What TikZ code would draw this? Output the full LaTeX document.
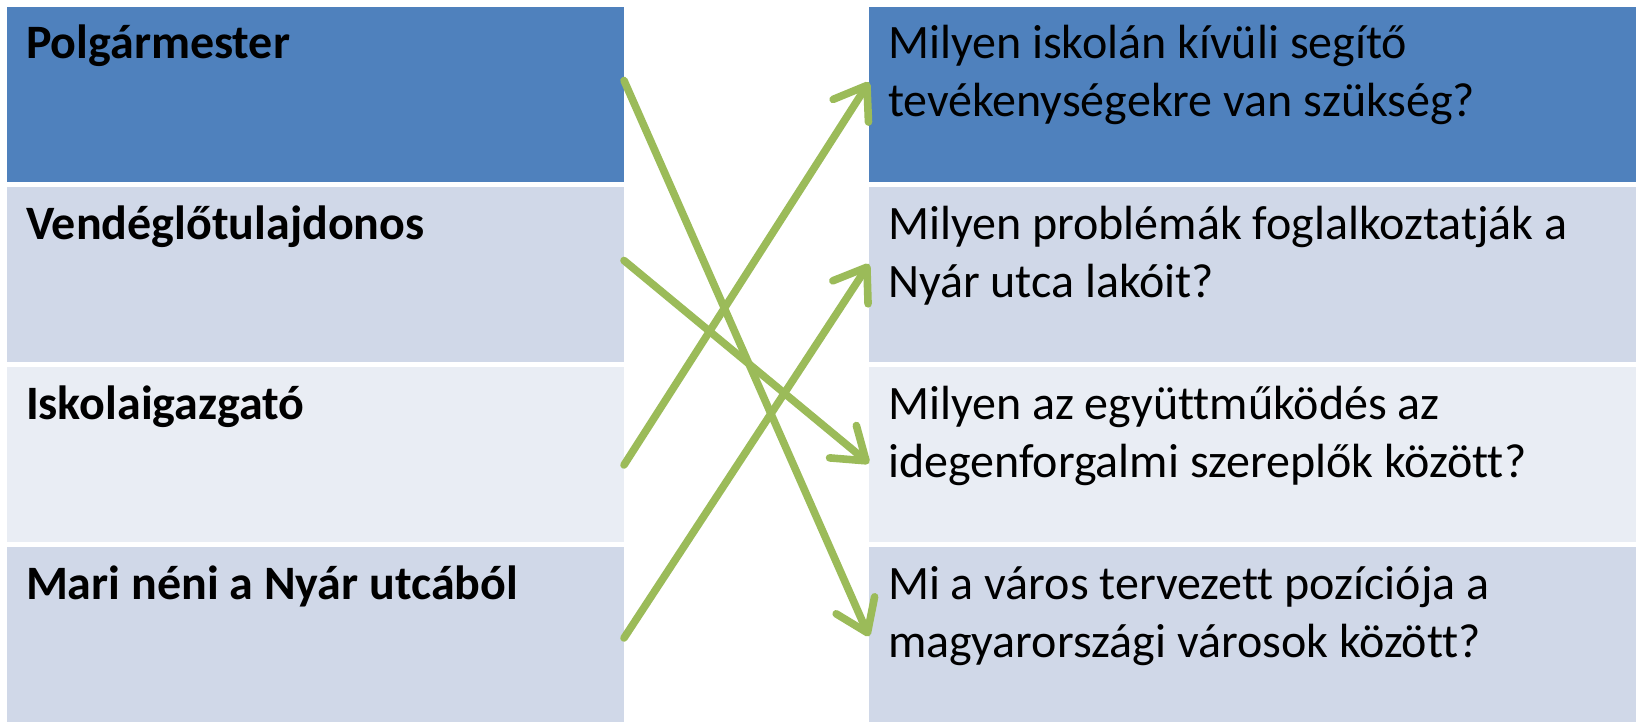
\documentclass[tikz,border=0pt]{standalone}
\usepackage{fontspec}
\setmainfont{Carlito}[Ligatures=NoCommon]
\usetikzlibrary{positioning,calc,arrows.meta}
\definecolor{hdrblue}{HTML}{4F81BD}
\definecolor{rowdark}{HTML}{D0D8E8}
\definecolor{rowlight}{HTML}{E9EDF4}
\definecolor{arrgreen}{HTML}{9BBB59}
\begin{document}
\begin{tikzpicture}[x=.5pt,y=-.5pt,inner sep=0pt,outer sep=0pt,
cell/.style={rectangle,anchor=north west,inner xsep=9.5pt,inner ysep=0pt,align=flush left,text height=26pt,text depth=61.5pt,font=\fontsize{24}{29}\selectfont},
leftcell/.style={cell,text width=289.5pt,font=\fontsize{24}{29}\selectfont\bfseries},
rightcell/.style={cell,text width=364.5pt},
link/.style={draw=arrgreen,line width=3.8pt,line cap=round,-{Straight Barb[length=15pt,width=21pt,round]}}]
\useasboundingbox[fill=white] (0,0) rectangle (1636,722);
% szereplok
\node[leftcell,fill=hdrblue] (pol) at (7,7) {Polgármester};
\node[leftcell,fill=rowdark,below=2.5pt of pol] (vend) {Vendéglőtulajdonos};
\node[leftcell,fill=rowlight,below=2.5pt of vend] (isk) {Iskolaigazgató};
\node[leftcell,fill=rowdark,below=2.5pt of isk] (mari) {Mari néni a Nyár utcából};
% kerdesek
\node[rightcell,fill=hdrblue,right=122.5pt of pol] (q1) {Milyen iskolán kívüli segítő\\tevékenységekre van szükség?};
\node[rightcell,fill=rowdark,below=2.5pt of q1] (q2) {Milyen problémák foglalkoztatják a\\Nyár utca lakóit?};
\node[rightcell,fill=rowlight,below=2.5pt of q2] (q3) {Milyen az együttműködés az\\idegenforgalmi szereplők között?};
\node[rightcell,fill=rowdark,below=2.5pt of q3] (q4) {Mi a város tervezett pozíciója a\\magyarországi városok között?};
% nyilak
\draw[link] ($(pol.north east)!.42!(pol.south east)$) -- ($(q4.north west)!.51!(q4.south west)$);
\draw[link] ($(vend.north east)!.42!(vend.south east)$) -- ($(q3.north west)!.55!(q3.south west)$);
\draw[link] ($(isk.north east)!.56!(isk.south east)$) -- ($(q1.north west)!.43!(q1.south west)$);
\draw[link] ($(mari.north east)!.52!(mari.south east)$) -- ($(q2.north west)!.44!(q2.south west)$);
\end{tikzpicture}
\end{document}
